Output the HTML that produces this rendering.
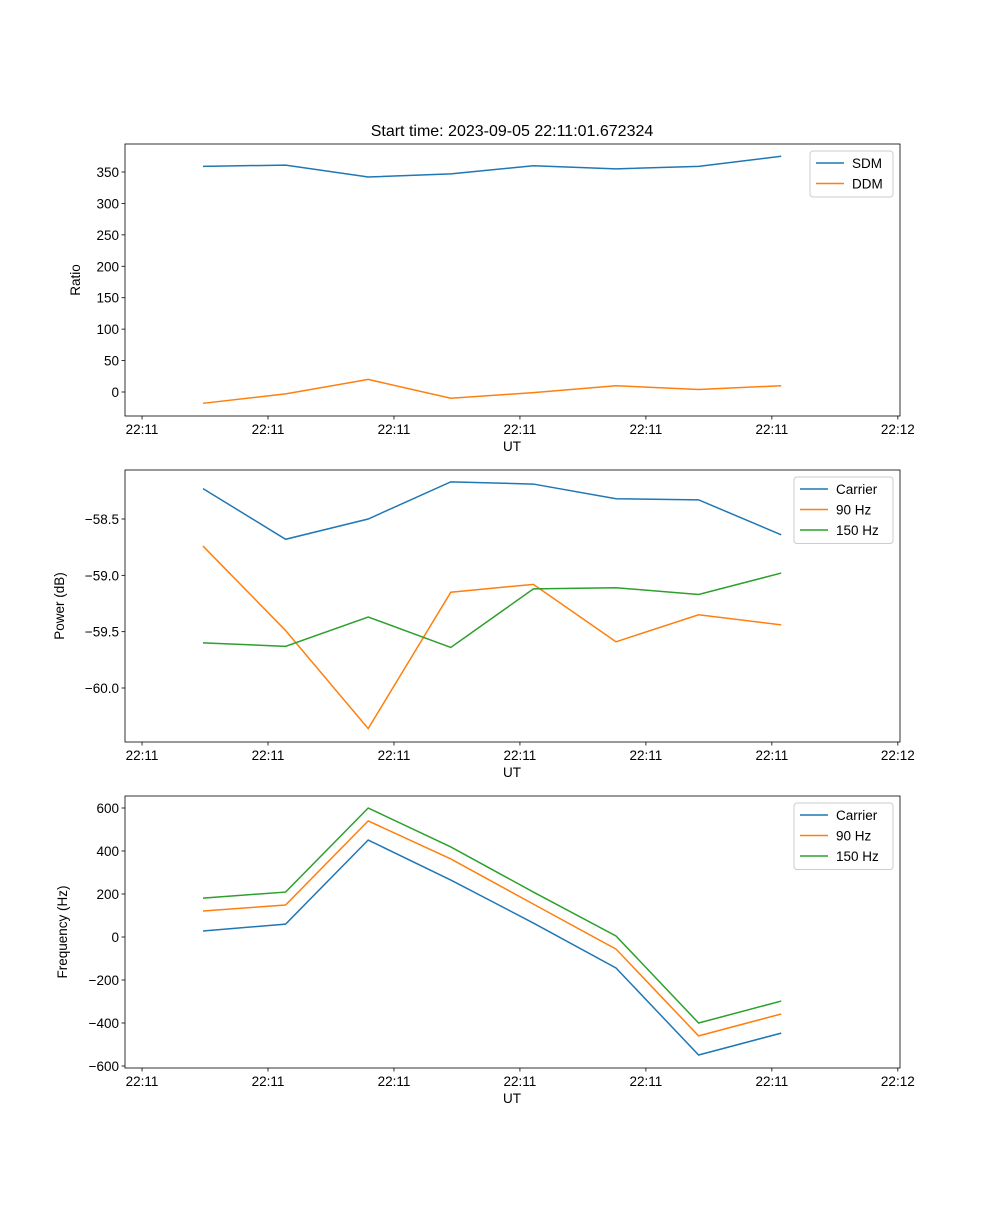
<!DOCTYPE html>
<html><head><meta charset="utf-8"><style>body{margin:0;background:#fff}svg text{font-family:"Liberation Sans","DejaVu Sans",sans-serif;fill:#000}</style></head>
<body>
<svg id="fig" width="1000" height="1200" xmlns="http://www.w3.org/2000/svg">
<rect width="1000" height="1200" fill="#fff"/>
<text x="512" y="136" font-size="16" text-anchor="middle">Start time: 2023-09-05 22:11:01.672324</text>
</svg>
<script>
const xIdx=[0,1,2,3,4,5,6,7];
const xTickVals=[-0.738,0.787,2.312,3.837,5.362,6.887,8.412];
const xTickLabels=["22:11","22:11","22:11","22:11","22:11","22:11","22:12"];
const sdm=[359,361,342,347,360,355,359,375];
const ddm=[-18,-3,20,-10,-1,10,4,10];
const pCarrier=[-58.23,-58.68,-58.5,-58.17,-58.19,-58.32,-58.33,-58.64];
const p90=[-58.74,-59.49,-60.36,-59.15,-59.08,-59.59,-59.35,-59.44];
const p150=[-59.6,-59.63,-59.37,-59.64,-59.12,-59.11,-59.17,-58.98];
const fCarrier=[28,60,451,265,65,-144,-549,-447];
const f90=[121,149,540,363,153,-56,-460,-358];
const f150=[181,209,600,419,209,5,-400,-298];
const yTicks1=[0,50,100,150,200,250,300,350];
const yTicks2=[-58.5,-59.0,-59.5,-60.0];
const yTicks3=[-600,-400,-200,0,200,400,600];
const C=["#1f77b4","#ff7f0e","#2ca02c"];
const NS="http://www.w3.org/2000/svg",svg=document.getElementById('fig');
function mk(t,a,p){const e=document.createElementNS(NS,t);for(const k in a)e.setAttribute(k,a[k]);(p||svg).appendChild(e);return e;}
const L=125,R=900;
function xs(i){return 203+i*82.6;}
function panel(top,name,ylab,yTicks,yv0,py0,yv1,py1,series,names,legW,fmt){
  const B=top+272;
  const g=mk('g',{});
  
  
  const ys=v=>py0+(v-yv0)*(py1-py0)/(yv1-yv0);
  series.forEach((s,k)=>{
    const p=mk('polyline',{points:s.map((v,i)=>xs(xIdx[i])+','+ys(v)).join(' '),fill:'none',stroke:C[k],'stroke-width':1.5},g);
    
    
  });
  mk('rect',{x:L,y:top,width:R-L,height:272,fill:'none',stroke:'#000','stroke-width':0.8},g);
  xTickVals.forEach((t,i)=>{const x=xs(t);
    mk('line',{x1:x,x2:x,y1:B,y2:B+3.5,stroke:'#000','stroke-width':0.8},g);
    const tx=mk('text',{x:x,y:B+18,'font-size':13.5,'text-anchor':'middle'},g);tx.textContent=xTickLabels[i];
    
    });
  yTicks.forEach(t=>{const y=ys(t);
    mk('line',{x1:L-3.5,x2:L,y1:y,y2:y,stroke:'#000','stroke-width':0.8},g);
    const tx=mk('text',{x:L-6,y:y+5,'font-size':13.5,'text-anchor':'end'},g);tx.textContent=fmt(t);
    
    });
  const xl=mk('text',{x:512,y:B+35,'font-size':13.5,'text-anchor':'middle'},g);xl.textContent='UT';
  
  
  const yl=mk('text',{x:0,y:0,'font-size':13.5,'text-anchor':'middle',transform:`translate(${name==='ratio-panel'?80:name==='power-panel'?64:67},${top+136}) rotate(-90)`},g);yl.textContent=ylab;
  
  
  const lx=893-legW,ly=top+7;
  const lg=mk('g',{},g);
  
  
  mk('rect',{x:lx,y:ly,width:legW,height:names.length*20.5+5,rx:3,fill:'#fff',stroke:'#ccc'},lg);
  names.forEach((n,k)=>{const yy=ly+12+k*20.5;
    mk('line',{x1:lx+6,x2:lx+34,y1:yy,y2:yy,stroke:C[k],'stroke-width':1.5},lg);
    const t=mk('text',{x:lx+42,y:yy+5,'font-size':13.5},lg);t.textContent=n;
    
    });
}
panel(144,'ratio-panel','Ratio',yTicks1,350,172,0,392,[sdm,ddm],['SDM','DDM'],83,v=>String(v));
panel(470,'power-panel','Power (dB)',yTicks2,-58.5,519,-60,688,[pCarrier,p90,p150],['Carrier','90 Hz','150 Hz'],99,v=>'\u2212'+Math.abs(v).toFixed(1));
panel(796,'frequency-panel','Frequency (Hz)',yTicks3,600,808,-600,1066,[fCarrier,f90,f150],['Carrier','90 Hz','150 Hz'],99,v=>v<0?'\u2212'+Math.abs(v):String(v));
</script>
</body></html>
